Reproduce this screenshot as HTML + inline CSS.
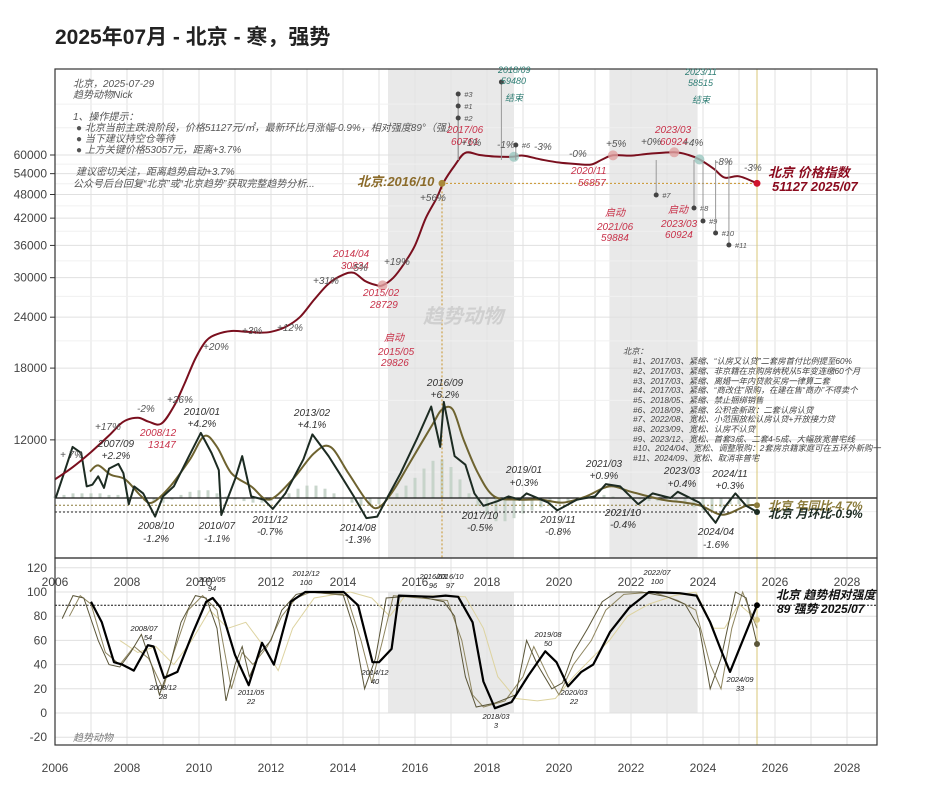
<!DOCTYPE html>
<html><head><meta charset="utf-8">
<style>
html,body{margin:0;padding:0;background:#fff;}
body{width:933px;height:800px;overflow:hidden;font-family:"Liberation Sans","Noto Sans CJK SC",sans-serif;}
svg text{font-family:"Liberation Sans","Noto Sans CJK SC",sans-serif;}
.g{fill:#555;font-size:10px;font-style:italic;}
.r{fill:#c8324a;font-size:10px;font-style:italic;}
.t{fill:#2e7d74;font-size:9px;font-style:italic;}
.m{fill:#333;font-size:10px;font-style:italic;text-anchor:middle;}
.p{fill:#444;font-size:8.3px;font-style:italic;}
.ax{fill:#444;font-size:12px;}
.s{fill:#222;font-size:7.5px;font-style:italic;text-anchor:middle;}
</style></head>
<body>
<svg id="chart" width="933" height="800" viewBox="0 0 933 800" xmlns="http://www.w3.org/2000/svg">
<text x="55" y="44" font-size="21" font-weight="bold" fill="#222">2025年07月 - 北京 - 寒，强势</text>
<g id="bg"></g>
<g id="grid"></g>
<g id="marks"></g>
<g id="ann">
  <text class="g" x="73" y="87">北京，2025-07-29</text>
  <text class="g" x="73" y="98">趋势动物Nick</text>
  <text class="g" x="73" y="120">1、操作提示：</text>
  <text class="g" x="76" y="131">● 北京当前主跌浪阶段，价格51127元/㎡，最新环比月涨幅-0.9%，相对强度89°（强）</text>
  <text class="g" x="76" y="142">● 当下建议持空仓等待</text>
  <text class="g" x="76" y="153">● 上方关键价格53057元，距离+3.7%</text>
  <text class="g" x="76" y="175">建议密切关注，距离趋势启动+3.7%</text>
  <text class="g" x="73" y="187">公众号后台回复“北京”或“北京趋势”获取完整趋势分析...</text>
  <text x="423" y="323" font-size="20" font-weight="bold" font-style="italic" fill="#cfcfcf">趋势动物</text>
  <text x="357" y="186" font-size="13" font-weight="bold" font-style="italic" fill="#8b6b2a">北京:2016/10</text>
  <text x="768" y="177" font-size="13" font-weight="bold" font-style="italic" fill="#8b0a1e">北京 价格指数</text>
  <text x="772" y="191" font-size="13" font-weight="bold" font-style="italic" fill="#8b0a1e">51127 2025/07</text>
  <text class="r" x="333" y="257">2014/04</text><text class="r" x="341" y="269">30834</text>
  <text class="r" x="363" y="296">2015/02</text><text class="r" x="370" y="308">28729</text>
  <text class="r" x="447" y="133">2017/06</text><text class="r" x="451" y="145">60761</text>
  <text class="r" x="140" y="436">2008/12</text><text class="r" x="148" y="448">13147</text>
  <text class="r" x="571" y="174">2020/11</text><text class="r" x="578" y="186">56857</text>
  <text class="r" x="655" y="133">2023/03</text><text class="r" x="660" y="145">60924</text>
  <text class="r" x="384" y="341" font-size="9">启动</text>
  <text class="r" x="378" y="355" font-size="8">2015/05</text><text class="r" x="381" y="366" font-size="8">29826</text>
  <text class="r" x="605" y="216" font-size="9">启动</text>
  <text class="r" x="597" y="230" font-size="8">2021/06</text><text class="r" x="601" y="241" font-size="8">59884</text>
  <text class="r" x="668" y="213" font-size="9">启动</text>
  <text class="r" x="661" y="227" font-size="8">2023/03</text><text class="r" x="665" y="238" font-size="8">60924</text>
  <text class="t" x="505" y="101">结束</text>
  <text class="t" x="498" y="73">2018/09</text><text class="t" x="501" y="84">59480</text>
  <text class="t" x="692" y="103">结束</text>
  <text class="t" x="685" y="75">2023/11</text><text class="t" x="688" y="86">58515</text>
  <g fill="#555" font-size="10" font-style="italic">
    <text x="60" y="458">+ 7%</text><text x="95" y="430">+17%</text><text x="137" y="412">-2%</text><text x="167" y="403">+26%</text>
    <text x="203" y="350">+20%</text><text x="242" y="334">+3%</text><text x="277" y="331">+12%</text><text x="313" y="284">+31%</text>
    <text x="350" y="271">-5%</text><text x="384" y="265">+19%</text><text x="420" y="201">+56%</text><text x="461" y="146">+1%</text>
    <text x="497" y="148">-1%</text><text x="534" y="150">-3%</text><text x="569" y="157">-0%</text><text x="606" y="147">+5%</text>
    <text x="641" y="145">+0%</text><text x="683" y="146">+4%</text><text x="715" y="165">-8%</text><text x="744" y="171">-3%</text>
  </g>
  <g>
    <text class="m" x="116" y="447">2007/09</text><text class="m" x="116" y="459">+2.2%</text>
    <text class="m" x="156" y="529">2008/10</text><text class="m" x="156" y="542">-1.2%</text>
    <text class="m" x="202" y="415">2010/01</text><text class="m" x="202" y="427">+4.2%</text>
    <text class="m" x="217" y="529">2010/07</text><text class="m" x="217" y="542">-1.1%</text>
    <text class="m" x="270" y="523">2011/12</text><text class="m" x="270" y="535">-0.7%</text>
    <text class="m" x="312" y="416">2013/02</text><text class="m" x="312" y="428">+4.1%</text>
    <text class="m" x="358" y="531">2014/08</text><text class="m" x="358" y="543">-1.3%</text>
    <text class="m" x="445" y="386">2016/09</text><text class="m" x="445" y="398">+6.2%</text>
    <text class="m" x="480" y="519">2017/10</text><text class="m" x="480" y="531">-0.5%</text>
    <text class="m" x="524" y="473">2019/01</text><text class="m" x="524" y="486">+0.3%</text>
    <text class="m" x="558" y="523">2019/11</text><text class="m" x="558" y="535">-0.8%</text>
    <text class="m" x="604" y="467">2021/03</text><text class="m" x="604" y="479">+0.9%</text>
    <text class="m" x="623" y="516">2021/10</text><text class="m" x="623" y="528">-0.4%</text>
    <text class="m" x="682" y="474">2023/03</text><text class="m" x="682" y="487">+0.4%</text>
    <text class="m" x="716" y="535">2024/04</text><text class="m" x="716" y="548">-1.6%</text>
    <text class="m" x="730" y="477">2024/11</text><text class="m" x="730" y="489">+0.3%</text>
  </g>
  <text x="768" y="510" font-size="12" font-weight="bold" font-style="italic" fill="#8b7b3a">北京 年同比-4.7%</text>
  <text x="768" y="518" font-size="12" font-weight="bold" font-style="italic" fill="#1c2b22">北京 月环比-0.9%</text>
  <g>
    <text class="p" x="623" y="354">北京：</text>
    <text class="p" x="633" y="364">#1、2017/03、紧缩、“认房又认贷”二套房首付比例提至60%</text>
    <text class="p" x="633" y="374">#2、2017/03、紧缩、非京籍在京购房纳税从5年变连缴60个月</text>
    <text class="p" x="633" y="384">#3、2017/03、紧缩、离婚一年内贷款买房一律算二套</text>
    <text class="p" x="633" y="393">#4、2017/03、紧缩、“商改住”限购，在建在售“商办”不得卖个</text>
    <text class="p" x="633" y="403">#5、2018/05、紧缩、禁止捆绑销售</text>
    <text class="p" x="633" y="413">#6、2018/09、紧缩、公积金新政：二套认房认贷</text>
    <text class="p" x="633" y="422">#7、2022/08、宽松、小范围放松认房认贷+开放接力贷</text>
    <text class="p" x="633" y="432">#8、2023/09、宽松、认房不认贷</text>
    <text class="p" x="633" y="442">#9、2023/12、宽松、首套3成、二套4-5成、大幅放宽普宅线</text>
    <text class="p" x="633" y="451">#10、2024/04、宽松、调整限购：2套房京籍家庭可在五环外新购一</text>
    <text class="p" x="633" y="461">#11、2024/09、宽松、取消非普宅</text>
  </g>
  <text x="776" y="599" font-size="12" font-weight="bold" font-style="italic" fill="#111">北京 趋势相对强度</text>
  <text x="777" y="613" font-size="12" font-weight="bold" font-style="italic" fill="#111">89 强势 2025/07</text>
  <g>
    <text class="s" x="144" y="631">2008/07</text><text class="s" x="148" y="640">54</text>
    <text class="s" x="163" y="690">2008/12</text><text class="s" x="163" y="699">28</text>
    <text class="s" x="212" y="582">2010/05</text><text class="s" x="212" y="591">94</text>
    <text class="s" x="251" y="695">2011/05</text><text class="s" x="251" y="704">22</text>
    <text class="s" x="306" y="576">2012/12</text><text class="s" x="306" y="585">100</text>
    <text class="s" x="375" y="675">2014/12</text><text class="s" x="375" y="684">40</text>
    <text class="s" x="433" y="579">2016/03</text><text class="s" x="433" y="588">96</text>
    <text class="s" x="450" y="579">2016/10</text><text class="s" x="450" y="588">97</text>
    <text class="s" x="496" y="719">2018/03</text><text class="s" x="496" y="728">3</text>
    <text class="s" x="548" y="637">2019/08</text><text class="s" x="548" y="646">50</text>
    <text class="s" x="574" y="695">2020/03</text><text class="s" x="574" y="704">22</text>
    <text class="s" x="657" y="575">2022/07</text><text class="s" x="657" y="584">100</text>
    <text class="s" x="740" y="682">2024/09</text><text class="s" x="740" y="691">33</text>
  </g>
  <text x="73" y="741" font-size="10" font-style="italic" fill="#777">趋势动物</text>
</g>
</svg>
<script>
// ---- data ----
const priceDates = [2006.0,2006.5,2007.0,2007.5,2007.9,2008.3,2008.6,2008.95,2009.3,2009.6,2009.9,2010.2,2010.5,2010.9,2011.3,2011.7,2012.0,2012.4,2012.8,2013.2,2013.6,2014.0,2014.3,2014.6,2014.9,2015.1,2015.4,2015.7,2016.0,2016.3,2016.6,2016.8,2017.1,2017.4,2017.8,2018.2,2018.7,2019.0,2019.5,2020.0,2020.5,2020.9,2021.2,2021.5,2022.0,2022.5,2023.2,2023.6,2023.9,2024.3,2024.6,2025.0,2025.5];
const priceValues = [9600,10300,11200,12300,13300,13600,13300,13147,14500,16500,19000,21000,21800,22200,22100,22000,22100,22700,24000,26500,29000,30500,30834,29500,28800,28729,30000,32500,36000,42000,47000,51500,56500,60761,60000,59500,59400,59800,58500,57500,57000,56857,58500,59884,59800,60400,60924,60000,58515,55500,52800,53200,51127];
const momDates = [2006.02,2006.25,2006.49,2006.73,2006.88,2007.04,2007.2,2007.36,2007.5,2007.76,2007.9,2008.05,2008.2,2008.45,2008.78,2009.0,2009.3,2009.7,2010.05,2010.35,2010.55,2010.62,2011.0,2011.2,2011.45,2011.8,2012.05,2012.4,2012.9,2013.15,2013.6,2013.9,2014.3,2014.65,2014.95,2015.25,2015.6,2016.05,2016.45,2016.7,2016.8,2017.1,2017.4,2017.65,2017.9,2018.3,2018.6,2018.9,2019.1,2019.7,2019.95,2020.5,2021.0,2021.3,2021.7,2022.2,2022.6,2023.1,2023.3,2023.9,2024.35,2024.6,2024.9,2025.2,2025.5];
const momValues = [0,1.6,3.3,2.9,0.75,0.86,1.4,0.65,1.9,2.2,1.6,-0.4,0.75,0.3,-1.2,0.1,0.75,2.6,4.2,2.9,1.8,-1.1,1.2,2.7,0.1,-0.1,-0.7,0.3,2.5,4.1,2.7,1.6,0.1,-1.3,-1.2,0.1,1.6,3.8,5.9,3.3,6.2,2.7,2.15,0.3,-0.5,-0.2,0.1,-0.1,0.3,-0.3,-0.8,-0.1,0.1,0.9,0.75,-0.4,0.3,0,0.4,-0.3,-1.6,-0.6,0.3,-0.5,-0.9];
const yoyDates = [2006.97,2007.2,2007.55,2007.95,2008.4,2008.7,2009.2,2009.75,2010.15,2010.5,2010.9,2011.45,2011.95,2012.6,2013.2,2013.65,2014.15,2014.7,2015.0,2015.4,2015.85,2016.5,2016.75,2017.05,2017.35,2017.75,2018.2,2018.85,2019.5,2020.1,2020.75,2021.4,2022.0,2022.85,2023.5,2023.95,2024.55,2025.2,2025.5];
const yoyValues = [17,21,15,12,1,-3,7.5,25,40,33,16,7.5,-1,12,29,33,16,-3,-6,5,22.5,48,57,57,37.6,16,1,-1,-1,-3,1,7.5,4,-1,-3,-5,-10.8,-5,-4.7];
const barStart = 2006.0;
const barValues = [0.1,0.2,0.3,0.3, 0.3,0.3,0.2,0.2, 0.1,0,-0.2,-0.3, -0.3,-0.1,0.2,0.4, 0.5,0.5,0.3,0.1, -0.1,-0.2,-0.3,-0.3, -0.2,0,0.3,0.6, 0.8,0.8,0.6,0.3, 0,-0.3,-0.5,-0.5, -0.4,-0.1,0.3,0.8, 1.3,1.9,2.4,2.5, 2.0,1.2,0.3,-0.5, -1.1,-1.5,-1.5,-1.3, -1.0,-0.8,-0.6,-0.5, -0.4,-0.3,-0.2,0, 0.1,0.2,0.1,0, -0.1,-0.1,-0.2,-0.2, -0.1,-0.2,-0.4,-0.6, -0.8,-0.8,-0.6,-0.4, -0.4,-0.5];
const strDates = [2007.0,2007.3,2007.64,2007.87,2008.19,2008.58,2008.74,2009.03,2009.4,2009.84,2010.2,2010.38,2010.6,2011.0,2011.38,2011.75,2012.08,2012.55,2012.95,2014.02,2014.42,2014.82,2015.0,2015.35,2015.55,2016.5,2016.85,2017.2,2017.6,2017.9,2018.22,2018.68,2019.15,2019.62,2019.93,2020.25,2020.62,2020.95,2021.42,2021.95,2022.5,2023.35,2023.82,2024.2,2024.5,2024.75,2025.2,2025.5];
const strValues = [92,75,42,40,35,56,55,29,34,67,92,95,87,48,23,58,40,92,100,100,89,42,42,53,97,96,97,96,75,26,4,9,31,51,42,22,34,40,67,87,100,99,97,75,52,34,67,89];
const thinADates = [2006.2,2006.5,2006.8,2007.2,2007.5,2007.8,2008.1,2008.4,2008.7,2008.9,2009.2,2009.5,2009.9,2010.2,2010.5,2010.75,2011.0,2011.2,2011.4,2011.7,2012.0,2012.3,2012.7,2013.0,2014.0,2014.3,2014.6,2014.9,2015.2,2016.0,2016.8,2017.1,2017.4,2017.7,2018.2,2018.8,2019.1,2019.4,2019.8,2020.1,2020.4,2020.8,2021.2,2021.6,2022.3,2023.0,2023.5,2023.9,2024.2,2024.5,2024.9,2025.2,2025.5];
const thinAValues = [78,97,95,60,40,38,50,65,38,15,40,75,97,95,70,10,40,55,30,50,60,85,98,100,98,70,20,45,95,97,92,80,30,5,8,15,60,40,20,25,50,70,92,100,100,96,90,70,20,45,100,95,57];
const thinBDates = [2007.8,2008.3,2008.8,2009.3,2009.8,2010.3,2010.8,2011.3,2011.8,2012.2,2012.6,2013.2,2014.2,2014.8,2015.3,2015.7,2016.7,2017.4,2017.9,2018.3,2018.8,2019.4,2019.9,2020.4,2020.9,2021.4,2021.9,2022.5,2023.2,2023.8,2024.3,2024.6,2025.0,2025.5];
const thinBValues = [60,50,55,40,60,85,70,75,55,35,70,95,100,95,80,96,97,96,70,30,12,10,12,30,45,60,80,90,97,100,70,70,90,77];
const thinCDates = [2006.4,2006.7,2007.0,2007.4,2007.8,2008.2,2008.6,2009.0,2009.3,2009.7,2010.1,2010.5,2010.9,2011.2,2011.5,2011.9,2012.3,2012.7,2013.1,2014.1,2014.5,2014.8,2015.1,2015.4,2016.9,2017.3,2017.6,2017.9,2018.5,2019.0,2019.3,2019.7,2020.0,2020.4,2020.9,2021.3,2021.8,2022.6,2023.3,2023.8,2024.2,2024.5,2024.8,2025.1,2025.5];
const thinCValues = [80,97,90,50,40,55,45,20,50,85,97,85,20,50,40,55,80,95,100,97,60,25,60,97,93,60,15,5,10,30,55,30,15,40,60,85,98,100,93,85,40,20,70,100,70];
const yearTicks = [2006,2008,2010,2012,2014,2016,2018,2020,2022,2024,2026,2028];
const priceTicks = [60000,54000,48000,42000,36000,30000,24000,18000,12000];
const strengthTicks = [120,100,80,60,40,20,0,-20];
const shadeRanges = [[2015.25,2018.75],[2021.4,2023.85]];

// ---- scales ----
const X = t => 55 + (t - 2006) * 36;
const Yp = v => 155 + 177 * Math.log(60000 / v);
const Ym = v => 498 - 15.5 * v;
const Yy = v => 498 - 1.55 * v;
const Ys = v => 713 - 1.21 * v;
const NS = 'http://www.w3.org/2000/svg';
function mk(parent, tag, attrs) {
  const e = document.createElementNS(NS, tag);
  for (const k in attrs) e.setAttribute(k, attrs[k]);
  parent.appendChild(e);
  return e;
}
function smooth(pts) {
  let d = 'M' + pts[0][0].toFixed(1) + ',' + pts[0][1].toFixed(1);
  for (let i = 0; i < pts.length - 1; i++) {
    const p0 = pts[Math.max(0, i - 1)], p1 = pts[i], p2 = pts[i + 1], p3 = pts[Math.min(pts.length - 1, i + 2)];
    const c1 = [p1[0] + (p2[0] - p0[0]) / 6, p1[1] + (p2[1] - p0[1]) / 6];
    const c2 = [p2[0] - (p3[0] - p1[0]) / 6, p2[1] - (p3[1] - p1[1]) / 6];
    d += 'C' + c1.map(v=>v.toFixed(1)) + ' ' + c2.map(v=>v.toFixed(1)) + ' ' + p2[0].toFixed(1) + ',' + p2[1].toFixed(1);
  }
  return d;
}
const bg = document.getElementById('bg'), grid = document.getElementById('grid'), marks = document.getElementById('marks');

shadeRanges.forEach(r => {
  const sh = mk(bg, 'rect', {x: X(r[0]), y: 69, width: X(r[1]) - X(r[0]), height: 489, fill: '#e9e9e9'});
  
  
  const sh2 = mk(bg, 'rect', {x: X(r[0]), y: 592, width: X(r[1]) - X(r[0]), height: 121, fill: '#e9e9e9'});
  
  
});

for (let yr = 2006; yr <= 2028; yr++) {
  const gl = mk(grid, 'line', {x1: X(yr), x2: X(yr), y1: 69, y2: 745, stroke: '#e2e2e2', 'stroke-width': 1});
  
  
}
priceTicks.forEach((v, i) => {
  const gl = mk(grid, 'line', {x1: 55, x2: 877, y1: Yp(v), y2: Yp(v), stroke: '#e0e0e0'});
  
  
  const tk = mk(grid, 'line', {x1: 50, x2: 55, y1: Yp(v), y2: Yp(v), stroke: '#333'});
  
  
  const lb = mk(grid, 'text', {x: 47, y: Yp(v) + 4, 'text-anchor': 'end', class: 'ax'});
  lb.textContent = v;
  
  
  if (i < priceTicks.length - 1) {
    const mv = (v + priceTicks[i + 1]) / 2;
    const ml = mk(grid, 'line', {x1: 55, x2: 877, y1: Yp(mv), y2: Yp(mv), stroke: '#f0f0f0'});
    
    
  }
});
[80000, 70000, 10000, 8000].forEach(v => {
  if (Yp(v) > 69 && Yp(v) < 558) {
    const ml = mk(grid, 'line', {x1: 55, x2: 877, y1: Yp(v), y2: Yp(v), stroke: '#f0f0f0'});
    
    
  }
});
strengthTicks.forEach(v => {
  const gl = mk(grid, 'line', {x1: 55, x2: 877, y1: Ys(v), y2: Ys(v), stroke: '#e0e0e0'});
  
  
  const lb = mk(grid, 'text', {x: 47, y: Ys(v) + 4, 'text-anchor': 'end', class: 'ax'});
  lb.textContent = v;
  
  
});
yearTicks.forEach(yr => {
  const lb = mk(grid, 'text', {x: X(yr), y: 772, 'text-anchor': 'middle', class: 'ax'});
  lb.textContent = yr;
  
  
  const lb2 = mk(grid, 'text', {x: X(yr), y: 586, 'text-anchor': 'middle', class: 'ax'});
  lb2.textContent = yr;
  
  
});

barValues.forEach((v, i) => {
  const t = barStart + i * 0.25;
  const y0 = Ym(0), y1 = Ym(v);
  const b = mk(marks, 'rect', {x: X(t) - 1.5, y: Math.min(y0, y1), width: 3, height: Math.max(0.5, Math.abs(y1 - y0)), fill: '#c3d1c6', opacity: 0.9});
  
  
});
const zl = mk(marks, 'line', {x1: 55, x2: 877, y1: Ym(0), y2: Ym(0), stroke: '#111', 'stroke-width': 1.2});


const last = a => a[a.length - 1];
const d1 = mk(marks, 'line', {x1: 55, x2: X(2025.5), y1: Yy(last(yoyValues)), y2: Yy(last(yoyValues)), stroke: '#8b7b3a', 'stroke-dasharray': '2,2'});


const d2 = mk(marks, 'line', {x1: 55, x2: X(2025.5), y1: Ym(last(momValues)), y2: Ym(last(momValues)), stroke: '#222', 'stroke-dasharray': '2,2'});


const d3 = mk(marks, 'line', {x1: X(2016.75), x2: X(2025.5), y1: Yp(last(priceValues)), y2: Yp(last(priceValues)), stroke: '#c8922a', 'stroke-dasharray': '2,2'});


const d4 = mk(marks, 'line', {x1: X(2016.75), x2: X(2016.75), y1: Yp(last(priceValues)), y2: 558, stroke: '#c8922a', 'stroke-dasharray': '2,2'});


const d5 = mk(marks, 'line', {x1: 55, x2: 877, y1: Ys(last(strValues)), y2: Ys(last(strValues)), stroke: '#111', 'stroke-dasharray': '2,1.5'});


const cur = mk(marks, 'line', {x1: X(2025.5), x2: X(2025.5), y1: 69, y2: 745, stroke: '#d8c77a', 'stroke-width': 1});



const yoyPath = mk(marks, 'path', {d: smooth(yoyDates.map((t, i) => [X(t), Yy(yoyValues[i])])), fill: 'none', stroke: '#6e6330', 'stroke-width': 2});


const momPath = mk(marks, 'polyline', {points: momDates.map((t, i) => X(t).toFixed(1) + ',' + Ym(momValues[i]).toFixed(1)).join(' '), fill: 'none', stroke: '#1c2b22', 'stroke-width': 2, 'stroke-linejoin': 'round'});


const pricePath = mk(marks, 'path', {d: smooth(priceDates.map((t, i) => [X(t), Yp(priceValues[i])])), fill: 'none', stroke: '#7a0f1e', 'stroke-width': 2});



const thinB = mk(marks, 'polyline', {points: thinBDates.map((t, i) => X(t).toFixed(1) + ',' + Ys(thinBValues[i]).toFixed(1)).join(' '), fill: 'none', stroke: '#ddd3a0', 'stroke-width': 1});


const thinC = mk(marks, 'polyline', {points: thinCDates.map((t, i) => X(t).toFixed(1) + ',' + Ys(thinCValues[i]).toFixed(1)).join(' '), fill: 'none', stroke: '#8f8660', 'stroke-width': 1});


const thinA = mk(marks, 'polyline', {points: thinADates.map((t, i) => X(t).toFixed(1) + ',' + Ys(thinAValues[i]).toFixed(1)).join(' '), fill: 'none', stroke: '#5a5538', 'stroke-width': 1});


const strPath = mk(marks, 'polyline', {points: strDates.map((t, i) => X(t).toFixed(1) + ',' + Ys(strValues[i]).toFixed(1)).join(' '), fill: 'none', stroke: '#000', 'stroke-width': 2.2, 'stroke-linejoin': 'round'});



[[2015.1, 28729, '#e0a0a0'], [2021.5, 59884, '#e0a0a0'], [2023.2, 60924, '#e0a0a0'], [2018.75, 59400, '#9ac7bf'], [2023.9, 58515, '#9ac7bf']].forEach(m => {
  const c = mk(marks, 'circle', {cx: X(m[0]), cy: Yp(m[1]), r: 5, fill: m[2], opacity: 0.8});
  
  
});
const sm = mk(marks, 'circle', {cx: X(2016.75), cy: Yp(51127), r: 3.5, fill: '#a8893a'});


const em = mk(marks, 'circle', {cx: X(2025.5), cy: Yp(last(priceValues)), r: 3.5, fill: '#d0142c'});


[[Ym(last(momValues)), '#1c2b22'], [Yy(last(yoyValues)), '#8b7b3a'], [Ys(last(strValues)), '#000'], [Ys(77), '#d8c98a'], [Ys(57), '#5a5538']].forEach(p => {
  const c = mk(marks, 'circle', {cx: X(2025.5), cy: p[0], r: 3, fill: p[1]});
  
  
});
[[2017.2, 94, '#3'], [2017.2, 106, '#1'], [2017.2, 118, '#2'], [2018.4, 82, ''], [2018.8, 145, '#6'], [2022.7, 195, '#7'], [2023.75, 208, '#8'], [2024.0, 221, '#9'], [2024.35, 233, '#10'], [2024.72, 245, '#11']].forEach(p => {
  const ln = mk(marks, 'line', {x1: X(p[0]), x2: X(p[0]), y1: p[1], y2: 160, stroke: '#999'});
  
  
  const c = mk(marks, 'circle', {cx: X(p[0]), cy: p[1], r: 2.5, fill: '#444'});
  
  
  const tx = mk(marks, 'text', {x: X(p[0]) + 6, y: p[1] + 3, 'font-size': 7.5, 'font-style': 'italic', fill: '#555'});
  tx.textContent = p[2];
  
  
});

const f1 = mk(marks, 'rect', {x: 55, y: 69, width: 822, height: 489, fill: 'none', stroke: '#333', 'stroke-width': 1.2});


const f2 = mk(marks, 'rect', {x: 55, y: 558, width: 822, height: 187, fill: 'none', stroke: '#333', 'stroke-width': 1.2});


document.getElementById('chart').appendChild(document.getElementById('ann'));
</script>
</body></html>
